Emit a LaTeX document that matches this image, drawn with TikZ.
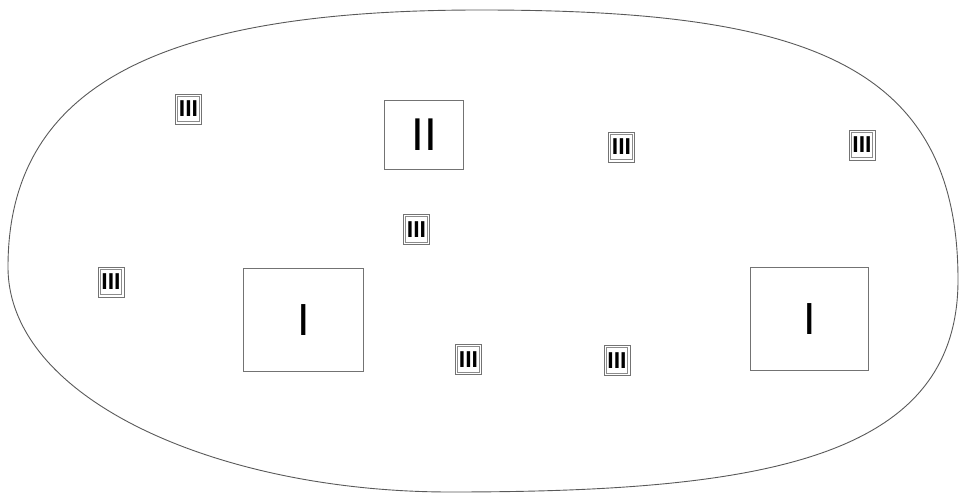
\documentclass[tikz,border=0pt]{standalone}
\usepackage{fontspec}
\setmainfont{Liberation Sans}
\begin{document}
\begin{tikzpicture}[x=1pt,y=-1pt,
  smallbox/.style={draw=black!55, line width=0.8pt,
    minimum width=26pt, minimum height=30pt, inner sep=0pt,
    font=\fontsize{23}{23}\selectfont\bfseries},
  innerframe/.style={draw=black!45, line width=0.7pt},
  bigbox/.style={draw=black!55, line width=1pt, inner sep=0pt,
    font=\fontsize{45}{45}\selectfont},
  outline/.style={draw=black!65, line width=0.9pt}]
\useasboundingbox (0,0) rectangle (960,494);
% enclosing curve
\draw[outline] (8,267) .. controls (8,80) and (170,10) .. (480,10)
  .. controls (800,10) and (958,60) .. (958,280)
  .. controls (958,460) and (760,492) .. (450,492)
  .. controls (220,492) and (8,400) .. (8,267) -- cycle;
% large boxes
\node[bigbox, minimum width=120pt, minimum height=103pt] (i1) at (303.5,320) {I};
\node[bigbox, minimum width=118pt, minimum height=103pt] (i2) at (809.5,319) {I};
\node[bigbox, minimum width=79pt, minimum height=69pt, font=\fontsize{46}{46}\selectfont] (ii) at (424,135) {II};
% small boxes
\node[smallbox] (s1) at (188.5,109) {III};
\node[smallbox] (s2) at (111,282) {III};
\node[smallbox] (s3) at (416.5,229.5) {III};
\node[smallbox] (s4) at (468.5,359.5) {III};
\node[smallbox] (s5) at (621.5,147) {III};
\node[smallbox] (s6) at (862,145) {III};
\node[smallbox] (s7) at (617,360.5) {III};
\foreach \n in {s1,s2,s3,s4,s5,s6,s7}
  \draw[innerframe] ([shift={(2.6,-2.6)}]\n.south west) rectangle ([shift={(-2.6,2.6)}]\n.north east);
\end{tikzpicture}
\end{document}
